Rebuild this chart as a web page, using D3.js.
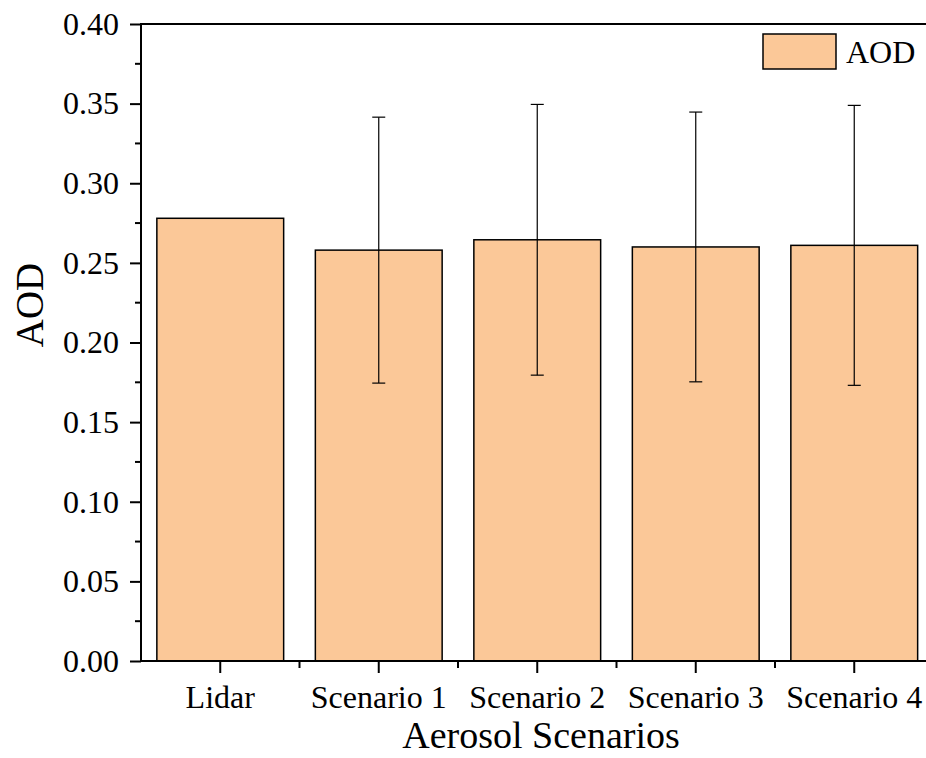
<!DOCTYPE html>
<html>
<head>
<meta charset="utf-8">
<script src="https://cdn.jsdelivr.net/npm/d3@7"></script>
<style>
  html, body { margin: 0; padding: 0; background: #fff; }
  svg { display: block; }
  text { font-family: "Liberation Serif", "Times New Roman", serif; fill: #000; }
</style>
</head>
<body>
<script>
// Aerosol optical depth by scenario
const categories = ["Lidar", "Scenario 1", "Scenario 2", "Scenario 3", "Scenario 4"];
const aodValues  = [0.278, 0.258, 0.2645, 0.260, 0.261];
const aodErrors  = [null, 0.0835, 0.085, 0.0847, 0.0879];
const yTicks     = [0, 0.05, 0.10, 0.15, 0.20, 0.25, 0.30, 0.35, 0.40];
const yMinorTicks = [0.025, 0.075, 0.125, 0.175, 0.225, 0.275, 0.325, 0.375];

const W = 926, H = 758;
const margin = { left: 141, top: 24 };
const plotW = 792.5, plotH = 637;

const svg = d3.select("body").append("svg").attr("width", W).attr("height", H);
const g = svg.append("g").attr("transform", `translate(${margin.left},${margin.top})`);

const x = d3.scaleBand().domain(categories).range([0, plotW]).paddingInner(0.2).paddingOuter(0.1);
const xOuter = d3.scaleBand().domain(categories).range([0, plotW]);
const y = d3.scaleLinear().domain([0, 0.40]).range([plotH, 0]);

const fill = "#FBC898";

// bars
g.selectAll("rect.bar").data(categories).join("rect")
  .attr("class", "bar")
  .attr("x", d => x(d))
  .attr("width", x.bandwidth())
  .attr("y", (d, i) => y(aodValues[i]))
  .attr("height", (d, i) => plotH - y(aodValues[i]))
  .attr("fill", fill)
  .attr("stroke", "#000")
  .attr("stroke-width", 1.5);

// error bars
const cap = 6.5;
const errs = categories.map((c, i) => ({ c, v: aodValues[i], e: aodErrors[i] })).filter(d => d.e != null);
const eg = g.selectAll("g.err").data(errs).join("g").attr("class", "err")
  .attr("stroke", "#000").attr("stroke-width", 1.2);
eg.append("line")
  .attr("x1", d => x(d.c) + x.bandwidth() / 2).attr("x2", d => x(d.c) + x.bandwidth() / 2)
  .attr("y1", d => y(d.v + d.e)).attr("y2", d => y(d.v - d.e));
eg.append("line")
  .attr("x1", d => x(d.c) + x.bandwidth() / 2 - cap).attr("x2", d => x(d.c) + x.bandwidth() / 2 + cap)
  .attr("y1", d => y(d.v + d.e)).attr("y2", d => y(d.v + d.e));
eg.append("line")
  .attr("x1", d => x(d.c) + x.bandwidth() / 2 - cap).attr("x2", d => x(d.c) + x.bandwidth() / 2 + cap)
  .attr("y1", d => y(d.v - d.e)).attr("y2", d => y(d.v - d.e));

// top frame line
g.append("line").attr("x1", 0).attr("x2", plotW).attr("y1", 0).attr("y2", 0)
  .attr("stroke", "#000").attr("stroke-width", 2);

// y axis
const yAxis = g.append("g")
  .call(d3.axisLeft(y).tickValues(yTicks).tickFormat(d3.format(".2f")).tickSize(11).tickPadding(11));
yAxis.append("g").selectAll("line").data(yMinorTicks).join("line")
  .attr("x1", 0).attr("x2", -6).attr("y1", d => y(d)).attr("y2", d => y(d));

// x axis
const xAxis = g.append("g").attr("transform", `translate(0,${plotH})`)
  .call(d3.axisBottom(x).tickSize(12).tickPadding(12).tickSizeOuter(0));
xAxis.append("g").selectAll("line").data(categories.slice(1)).join("line")
  .attr("x1", d => xOuter(d)).attr("x2", d => xOuter(d)).attr("y1", 0).attr("y2", 7);

[yAxis, xAxis].forEach(a => {
  a.select(".domain").attr("stroke", "#000").attr("stroke-width", 2);
  a.selectAll("line").attr("stroke", "#000").attr("stroke-width", 2);
  a.selectAll("text").attr("font-size", 32).attr("font-family", "Liberation Serif").attr("fill", "#000");
});
yAxis.select(".domain").attr("d", `M0,${plotH + 1}V-1`);
xAxis.select(".domain").attr("d", `M-1,0H${plotW}`);

// axis titles
svg.append("text")
  .attr("transform", `translate(43,305) rotate(-90)`)
  .attr("text-anchor", "middle")
  .attr("font-size", 39)
  .text("AOD");
svg.append("text")
  .attr("x", 541).attr("y", 748)
  .attr("text-anchor", "middle")
  .attr("font-size", 38)
  .text("Aerosol Scenarios");

// legend
svg.append("rect").attr("x", 763).attr("y", 34).attr("width", 73).attr("height", 35)
  .attr("fill", fill).attr("stroke", "#000").attr("stroke-width", 1.5);
svg.append("text").attr("x", 846).attr("y", 63).attr("font-size", 32).text("AOD");
</script>
</body>
</html>
